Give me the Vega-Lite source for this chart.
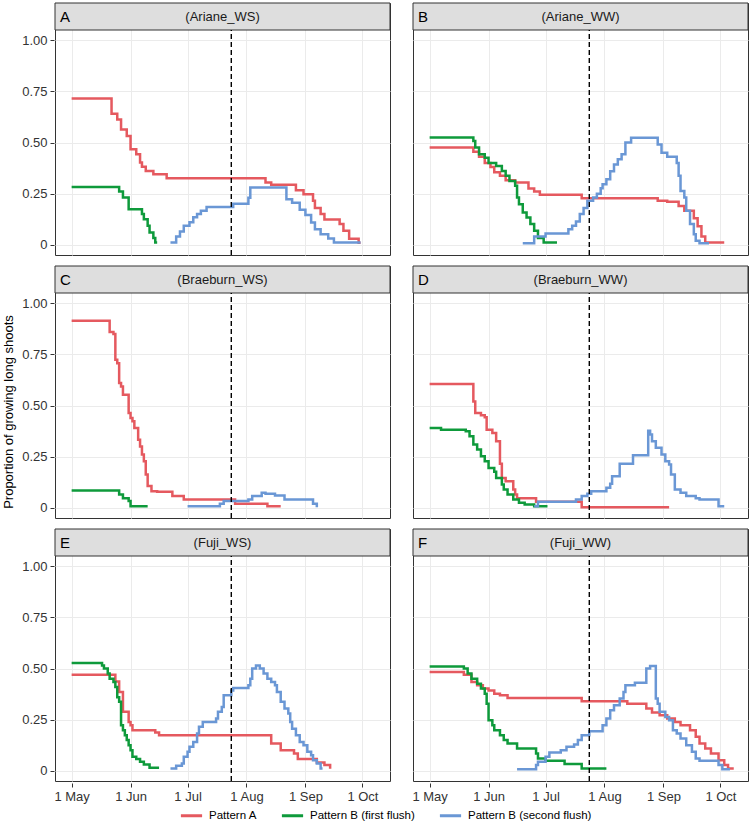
{
  "$schema": "https://vega.github.io/schema/vega-lite/v6.json",
  "background": "white",
  "padding": {"top": 2, "left": 2, "right": 2, "bottom": 4},
  "title": {"text": "Proportion of growing long shoots", "orient": "left", "anchor": "middle", "fontSize": 13, "fontWeight": "normal", "font": "Liberation Sans", "color": "#000000", "offset": 6},
  "config": {
    "font": "Liberation Sans",
    "view": {"stroke": "#333333", "strokeWidth": 1},
    "header": {"labelExpr": "''", "labelFontSize": 0, "title": null, "labelPadding": 0, "titlePadding": 0},
    "axis": {"labelFont": "Liberation Sans", "labelFontSize": 13, "labelColor": "#333333", "tickColor": "#333333", "tickSize": 4, "domain": false, "labelPadding": 3},
    "legend": {"labelFont": "Liberation Sans", "labelFontSize": 11.5, "labelColor": "#000000", "layout": {"bottom": {"anchor": "middle", "bounds": "flush", "direction": "horizontal"}}}
  },
  "data": {"values": [
    {"panel":"A","label":"(Ariane_WS)"},
    {"panel":"B","label":"(Ariane_WW)"},
    {"panel":"C","label":"(Braeburn_WS)"},
    {"panel":"D","label":"(Braeburn_WW)"},
    {"panel":"E","label":"(Fuji_WS)"},
    {"panel":"F","label":"(Fuji_WW)"},

    {"panel":"A","series":"Pattern A","date":"2017-05-01","value":0.715},
    {"panel":"A","series":"Pattern A","date":"2017-05-22","value":0.641},
    {"panel":"A","series":"Pattern A","date":"2017-05-25","value":0.613},
    {"panel":"A","series":"Pattern A","date":"2017-05-27","value":0.564},
    {"panel":"A","series":"Pattern A","date":"2017-05-30","value":0.532},
    {"panel":"A","series":"Pattern A","date":"2017-06-01","value":0.467},
    {"panel":"A","series":"Pattern A","date":"2017-06-04","value":0.442},
    {"panel":"A","series":"Pattern A","date":"2017-06-06","value":0.402},
    {"panel":"A","series":"Pattern A","date":"2017-06-07","value":0.382},
    {"panel":"A","series":"Pattern A","date":"2017-06-09","value":0.361},
    {"panel":"A","series":"Pattern A","date":"2017-06-13","value":0.345},
    {"panel":"A","series":"Pattern A","date":"2017-06-20","value":0.325},
    {"panel":"A","series":"Pattern A","date":"2017-08-11","value":0.304},
    {"panel":"A","series":"Pattern A","date":"2017-08-14","value":0.293},
    {"panel":"A","series":"Pattern A","date":"2017-08-27","value":0.267},
    {"panel":"A","series":"Pattern A","date":"2017-08-31","value":0.247},
    {"panel":"A","series":"Pattern A","date":"2017-09-05","value":0.215},
    {"panel":"A","series":"Pattern A","date":"2017-09-06","value":0.180},
    {"panel":"A","series":"Pattern A","date":"2017-09-09","value":0.150},
    {"panel":"A","series":"Pattern A","date":"2017-09-11","value":0.124},
    {"panel":"A","series":"Pattern A","date":"2017-09-19","value":0.101},
    {"panel":"A","series":"Pattern A","date":"2017-09-21","value":0.069},
    {"panel":"A","series":"Pattern A","date":"2017-09-24","value":0.029},
    {"panel":"A","series":"Pattern A","date":"2017-09-29","value":0.010},
    {"panel":"A","series":"Pattern A","date":"2017-09-30","value":0.010},

    {"panel":"A","series":"Pattern B (first flush)","date":"2017-05-01","value":0.283},
    {"panel":"A","series":"Pattern B (first flush)","date":"2017-05-26","value":0.260},
    {"panel":"A","series":"Pattern B (first flush)","date":"2017-05-28","value":0.231},
    {"panel":"A","series":"Pattern B (first flush)","date":"2017-05-31","value":0.174},
    {"panel":"A","series":"Pattern B (first flush)","date":"2017-06-07","value":0.150},
    {"panel":"A","series":"Pattern B (first flush)","date":"2017-06-08","value":0.125},
    {"panel":"A","series":"Pattern B (first flush)","date":"2017-06-10","value":0.093},
    {"panel":"A","series":"Pattern B (first flush)","date":"2017-06-11","value":0.060},
    {"panel":"A","series":"Pattern B (first flush)","date":"2017-06-13","value":0.033},
    {"panel":"A","series":"Pattern B (first flush)","date":"2017-06-14","value":0.011},
    {"panel":"A","series":"Pattern B (first flush)","date":"2017-06-15","value":0.011},

    {"panel":"A","series":"Pattern B (second flush)","date":"2017-06-22","value":0.011},
    {"panel":"A","series":"Pattern B (second flush)","date":"2017-06-25","value":0.040},
    {"panel":"A","series":"Pattern B (second flush)","date":"2017-06-27","value":0.065},
    {"panel":"A","series":"Pattern B (second flush)","date":"2017-06-29","value":0.093},
    {"panel":"A","series":"Pattern B (second flush)","date":"2017-07-02","value":0.110},
    {"panel":"A","series":"Pattern B (second flush)","date":"2017-07-04","value":0.135},
    {"panel":"A","series":"Pattern B (second flush)","date":"2017-07-06","value":0.150},
    {"panel":"A","series":"Pattern B (second flush)","date":"2017-07-08","value":0.166},
    {"panel":"A","series":"Pattern B (second flush)","date":"2017-07-11","value":0.185},
    {"panel":"A","series":"Pattern B (second flush)","date":"2017-07-25","value":0.200},
    {"panel":"A","series":"Pattern B (second flush)","date":"2017-08-02","value":0.230},
    {"panel":"A","series":"Pattern B (second flush)","date":"2017-08-03","value":0.280},
    {"panel":"A","series":"Pattern B (second flush)","date":"2017-08-22","value":0.223},
    {"panel":"A","series":"Pattern B (second flush)","date":"2017-08-25","value":0.206},
    {"panel":"A","series":"Pattern B (second flush)","date":"2017-08-29","value":0.171},
    {"panel":"A","series":"Pattern B (second flush)","date":"2017-09-01","value":0.146},
    {"panel":"A","series":"Pattern B (second flush)","date":"2017-09-04","value":0.109},
    {"panel":"A","series":"Pattern B (second flush)","date":"2017-09-06","value":0.076},
    {"panel":"A","series":"Pattern B (second flush)","date":"2017-09-09","value":0.051},
    {"panel":"A","series":"Pattern B (second flush)","date":"2017-09-13","value":0.031},
    {"panel":"A","series":"Pattern B (second flush)","date":"2017-09-16","value":0.011},
    {"panel":"A","series":"Pattern B (second flush)","date":"2017-09-30","value":0.011},

    {"panel":"B","series":"Pattern A","date":"2017-05-01","value":0.475},
    {"panel":"B","series":"Pattern A","date":"2017-05-24","value":0.455},
    {"panel":"B","series":"Pattern A","date":"2017-05-27","value":0.430},
    {"panel":"B","series":"Pattern A","date":"2017-05-30","value":0.400},
    {"panel":"B","series":"Pattern A","date":"2017-06-02","value":0.380},
    {"panel":"B","series":"Pattern A","date":"2017-06-04","value":0.355},
    {"panel":"B","series":"Pattern A","date":"2017-06-07","value":0.337},
    {"panel":"B","series":"Pattern A","date":"2017-06-10","value":0.315},
    {"panel":"B","series":"Pattern A","date":"2017-06-15","value":0.304},
    {"panel":"B","series":"Pattern A","date":"2017-06-22","value":0.275},
    {"panel":"B","series":"Pattern A","date":"2017-06-25","value":0.260},
    {"panel":"B","series":"Pattern A","date":"2017-06-28","value":0.245},
    {"panel":"B","series":"Pattern A","date":"2017-07-20","value":0.228},
    {"panel":"B","series":"Pattern A","date":"2017-08-29","value":0.215},
    {"panel":"B","series":"Pattern A","date":"2017-09-03","value":0.210},
    {"panel":"B","series":"Pattern A","date":"2017-09-09","value":0.190},
    {"panel":"B","series":"Pattern A","date":"2017-09-12","value":0.166},
    {"panel":"B","series":"Pattern A","date":"2017-09-17","value":0.130},
    {"panel":"B","series":"Pattern A","date":"2017-09-19","value":0.090},
    {"panel":"B","series":"Pattern A","date":"2017-09-21","value":0.040},
    {"panel":"B","series":"Pattern A","date":"2017-09-23","value":0.011},
    {"panel":"B","series":"Pattern A","date":"2017-10-03","value":0.011},

    {"panel":"B","series":"Pattern B (first flush)","date":"2017-05-01","value":0.524},
    {"panel":"B","series":"Pattern B (first flush)","date":"2017-05-24","value":0.507},
    {"panel":"B","series":"Pattern B (first flush)","date":"2017-05-25","value":0.475},
    {"panel":"B","series":"Pattern B (first flush)","date":"2017-05-27","value":0.442},
    {"panel":"B","series":"Pattern B (first flush)","date":"2017-05-30","value":0.426},
    {"panel":"B","series":"Pattern B (first flush)","date":"2017-06-01","value":0.400},
    {"panel":"B","series":"Pattern B (first flush)","date":"2017-06-05","value":0.385},
    {"panel":"B","series":"Pattern B (first flush)","date":"2017-06-08","value":0.361},
    {"panel":"B","series":"Pattern B (first flush)","date":"2017-06-10","value":0.337},
    {"panel":"B","series":"Pattern B (first flush)","date":"2017-06-12","value":0.312},
    {"panel":"B","series":"Pattern B (first flush)","date":"2017-06-15","value":0.288},
    {"panel":"B","series":"Pattern B (first flush)","date":"2017-06-16","value":0.231},
    {"panel":"B","series":"Pattern B (first flush)","date":"2017-06-17","value":0.198},
    {"panel":"B","series":"Pattern B (first flush)","date":"2017-06-19","value":0.158},
    {"panel":"B","series":"Pattern B (first flush)","date":"2017-06-21","value":0.133},
    {"panel":"B","series":"Pattern B (first flush)","date":"2017-06-23","value":0.101},
    {"panel":"B","series":"Pattern B (first flush)","date":"2017-06-25","value":0.068},
    {"panel":"B","series":"Pattern B (first flush)","date":"2017-06-27","value":0.033},
    {"panel":"B","series":"Pattern B (first flush)","date":"2017-06-30","value":0.011},
    {"panel":"B","series":"Pattern B (first flush)","date":"2017-07-07","value":0.011},

    {"panel":"B","series":"Pattern B (second flush)","date":"2017-06-19","value":0.008},
    {"panel":"B","series":"Pattern B (second flush)","date":"2017-06-25","value":0.040},
    {"panel":"B","series":"Pattern B (second flush)","date":"2017-07-01","value":0.055},
    {"panel":"B","series":"Pattern B (second flush)","date":"2017-07-13","value":0.076},
    {"panel":"B","series":"Pattern B (second flush)","date":"2017-07-15","value":0.093},
    {"panel":"B","series":"Pattern B (second flush)","date":"2017-07-17","value":0.114},
    {"panel":"B","series":"Pattern B (second flush)","date":"2017-07-19","value":0.150},
    {"panel":"B","series":"Pattern B (second flush)","date":"2017-07-21","value":0.180},
    {"panel":"B","series":"Pattern B (second flush)","date":"2017-07-23","value":0.215},
    {"panel":"B","series":"Pattern B (second flush)","date":"2017-07-26","value":0.231},
    {"panel":"B","series":"Pattern B (second flush)","date":"2017-07-28","value":0.250},
    {"panel":"B","series":"Pattern B (second flush)","date":"2017-07-30","value":0.276},
    {"panel":"B","series":"Pattern B (second flush)","date":"2017-07-31","value":0.296},
    {"panel":"B","series":"Pattern B (second flush)","date":"2017-08-02","value":0.320},
    {"panel":"B","series":"Pattern B (second flush)","date":"2017-08-04","value":0.360},
    {"panel":"B","series":"Pattern B (second flush)","date":"2017-08-06","value":0.393},
    {"panel":"B","series":"Pattern B (second flush)","date":"2017-08-08","value":0.418},
    {"panel":"B","series":"Pattern B (second flush)","date":"2017-08-10","value":0.442},
    {"panel":"B","series":"Pattern B (second flush)","date":"2017-08-12","value":0.500},
    {"panel":"B","series":"Pattern B (second flush)","date":"2017-08-15","value":0.523},
    {"panel":"B","series":"Pattern B (second flush)","date":"2017-08-29","value":0.490},
    {"panel":"B","series":"Pattern B (second flush)","date":"2017-08-31","value":0.450},
    {"panel":"B","series":"Pattern B (second flush)","date":"2017-09-03","value":0.430},
    {"panel":"B","series":"Pattern B (second flush)","date":"2017-09-08","value":0.400},
    {"panel":"B","series":"Pattern B (second flush)","date":"2017-09-09","value":0.337},
    {"panel":"B","series":"Pattern B (second flush)","date":"2017-09-10","value":0.263},
    {"panel":"B","series":"Pattern B (second flush)","date":"2017-09-12","value":0.231},
    {"panel":"B","series":"Pattern B (second flush)","date":"2017-09-13","value":0.166},
    {"panel":"B","series":"Pattern B (second flush)","date":"2017-09-15","value":0.101},
    {"panel":"B","series":"Pattern B (second flush)","date":"2017-09-17","value":0.052},
    {"panel":"B","series":"Pattern B (second flush)","date":"2017-09-18","value":0.020},
    {"panel":"B","series":"Pattern B (second flush)","date":"2017-09-20","value":0.008},
    {"panel":"B","series":"Pattern B (second flush)","date":"2017-09-25","value":0.008},

    {"panel":"C","series":"Pattern A","date":"2017-05-01","value":0.914},
    {"panel":"C","series":"Pattern A","date":"2017-05-21","value":0.859},
    {"panel":"C","series":"Pattern A","date":"2017-05-23","value":0.849},
    {"panel":"C","series":"Pattern A","date":"2017-05-24","value":0.724},
    {"panel":"C","series":"Pattern A","date":"2017-05-25","value":0.707},
    {"panel":"C","series":"Pattern A","date":"2017-05-26","value":0.610},
    {"panel":"C","series":"Pattern A","date":"2017-05-27","value":0.593},
    {"panel":"C","series":"Pattern A","date":"2017-05-28","value":0.553},
    {"panel":"C","series":"Pattern A","date":"2017-05-31","value":0.463},
    {"panel":"C","series":"Pattern A","date":"2017-06-01","value":0.439},
    {"panel":"C","series":"Pattern A","date":"2017-06-02","value":0.423},
    {"panel":"C","series":"Pattern A","date":"2017-06-03","value":0.390},
    {"panel":"C","series":"Pattern A","date":"2017-06-05","value":0.333},
    {"panel":"C","series":"Pattern A","date":"2017-06-06","value":0.300},
    {"panel":"C","series":"Pattern A","date":"2017-06-07","value":0.260},
    {"panel":"C","series":"Pattern A","date":"2017-06-08","value":0.228},
    {"panel":"C","series":"Pattern A","date":"2017-06-09","value":0.163},
    {"panel":"C","series":"Pattern A","date":"2017-06-10","value":0.106},
    {"panel":"C","series":"Pattern A","date":"2017-06-12","value":0.081},
    {"panel":"C","series":"Pattern A","date":"2017-06-15","value":0.078},
    {"panel":"C","series":"Pattern A","date":"2017-06-23","value":0.057},
    {"panel":"C","series":"Pattern A","date":"2017-06-29","value":0.041},
    {"panel":"C","series":"Pattern A","date":"2017-07-26","value":0.020},
    {"panel":"C","series":"Pattern A","date":"2017-08-12","value":0.008},
    {"panel":"C","series":"Pattern A","date":"2017-08-19","value":0.008},

    {"panel":"C","series":"Pattern B (first flush)","date":"2017-05-01","value":0.085},
    {"panel":"C","series":"Pattern B (first flush)","date":"2017-05-26","value":0.065},
    {"panel":"C","series":"Pattern B (first flush)","date":"2017-05-28","value":0.046},
    {"panel":"C","series":"Pattern B (first flush)","date":"2017-05-31","value":0.033},
    {"panel":"C","series":"Pattern B (first flush)","date":"2017-06-01","value":0.008},
    {"panel":"C","series":"Pattern B (first flush)","date":"2017-06-10","value":0.008},

    {"panel":"C","series":"Pattern B (second flush)","date":"2017-07-01","value":0.008},
    {"panel":"C","series":"Pattern B (second flush)","date":"2017-07-18","value":0.020},
    {"panel":"C","series":"Pattern B (second flush)","date":"2017-07-20","value":0.033},
    {"panel":"C","series":"Pattern B (second flush)","date":"2017-08-02","value":0.041},
    {"panel":"C","series":"Pattern B (second flush)","date":"2017-08-04","value":0.057},
    {"panel":"C","series":"Pattern B (second flush)","date":"2017-08-09","value":0.073},
    {"panel":"C","series":"Pattern B (second flush)","date":"2017-08-11","value":0.068},
    {"panel":"C","series":"Pattern B (second flush)","date":"2017-08-16","value":0.060},
    {"panel":"C","series":"Pattern B (second flush)","date":"2017-08-21","value":0.041},
    {"panel":"C","series":"Pattern B (second flush)","date":"2017-09-05","value":0.020},
    {"panel":"C","series":"Pattern B (second flush)","date":"2017-09-07","value":0.003},

    {"panel":"D","series":"Pattern A","date":"2017-05-01","value":0.605},
    {"panel":"D","series":"Pattern A","date":"2017-05-24","value":0.520},
    {"panel":"D","series":"Pattern A","date":"2017-05-25","value":0.463},
    {"panel":"D","series":"Pattern A","date":"2017-05-28","value":0.452},
    {"panel":"D","series":"Pattern A","date":"2017-05-30","value":0.442},
    {"panel":"D","series":"Pattern A","date":"2017-05-31","value":0.382},
    {"panel":"D","series":"Pattern A","date":"2017-06-03","value":0.366},
    {"panel":"D","series":"Pattern A","date":"2017-06-05","value":0.325},
    {"panel":"D","series":"Pattern A","date":"2017-06-07","value":0.215},
    {"panel":"D","series":"Pattern A","date":"2017-06-08","value":0.146},
    {"panel":"D","series":"Pattern A","date":"2017-06-10","value":0.130},
    {"panel":"D","series":"Pattern A","date":"2017-06-14","value":0.089},
    {"panel":"D","series":"Pattern A","date":"2017-06-15","value":0.065},
    {"panel":"D","series":"Pattern A","date":"2017-06-16","value":0.046},
    {"panel":"D","series":"Pattern A","date":"2017-06-26","value":0.029},
    {"panel":"D","series":"Pattern A","date":"2017-07-20","value":0.003},
    {"panel":"D","series":"Pattern A","date":"2017-09-04","value":0.003},

    {"panel":"D","series":"Pattern B (first flush)","date":"2017-05-01","value":0.390},
    {"panel":"D","series":"Pattern B (first flush)","date":"2017-05-07","value":0.382},
    {"panel":"D","series":"Pattern B (first flush)","date":"2017-05-20","value":0.374},
    {"panel":"D","series":"Pattern B (first flush)","date":"2017-05-22","value":0.350},
    {"panel":"D","series":"Pattern B (first flush)","date":"2017-05-24","value":0.309},
    {"panel":"D","series":"Pattern B (first flush)","date":"2017-05-26","value":0.285},
    {"panel":"D","series":"Pattern B (first flush)","date":"2017-05-28","value":0.252},
    {"panel":"D","series":"Pattern B (first flush)","date":"2017-05-30","value":0.228},
    {"panel":"D","series":"Pattern B (first flush)","date":"2017-06-01","value":0.195},
    {"panel":"D","series":"Pattern B (first flush)","date":"2017-06-04","value":0.176},
    {"panel":"D","series":"Pattern B (first flush)","date":"2017-06-05","value":0.146},
    {"panel":"D","series":"Pattern B (first flush)","date":"2017-06-08","value":0.114},
    {"panel":"D","series":"Pattern B (first flush)","date":"2017-06-09","value":0.089},
    {"panel":"D","series":"Pattern B (first flush)","date":"2017-06-11","value":0.065},
    {"panel":"D","series":"Pattern B (first flush)","date":"2017-06-14","value":0.041},
    {"panel":"D","series":"Pattern B (first flush)","date":"2017-06-17","value":0.024},
    {"panel":"D","series":"Pattern B (first flush)","date":"2017-06-20","value":0.016},
    {"panel":"D","series":"Pattern B (first flush)","date":"2017-06-25","value":0.008},
    {"panel":"D","series":"Pattern B (first flush)","date":"2017-07-02","value":0.008},

    {"panel":"D","series":"Pattern B (second flush)","date":"2017-06-25","value":0.008},
    {"panel":"D","series":"Pattern B (second flush)","date":"2017-06-27","value":0.029},
    {"panel":"D","series":"Pattern B (second flush)","date":"2017-07-17","value":0.041},
    {"panel":"D","series":"Pattern B (second flush)","date":"2017-07-20","value":0.057},
    {"panel":"D","series":"Pattern B (second flush)","date":"2017-07-23","value":0.068},
    {"panel":"D","series":"Pattern B (second flush)","date":"2017-07-25","value":0.081},
    {"panel":"D","series":"Pattern B (second flush)","date":"2017-08-02","value":0.098},
    {"panel":"D","series":"Pattern B (second flush)","date":"2017-08-04","value":0.117},
    {"panel":"D","series":"Pattern B (second flush)","date":"2017-08-05","value":0.154},
    {"panel":"D","series":"Pattern B (second flush)","date":"2017-08-09","value":0.215},
    {"panel":"D","series":"Pattern B (second flush)","date":"2017-08-16","value":0.257},
    {"panel":"D","series":"Pattern B (second flush)","date":"2017-08-24","value":0.377},
    {"panel":"D","series":"Pattern B (second flush)","date":"2017-08-25","value":0.358},
    {"panel":"D","series":"Pattern B (second flush)","date":"2017-08-26","value":0.325},
    {"panel":"D","series":"Pattern B (second flush)","date":"2017-08-28","value":0.293},
    {"panel":"D","series":"Pattern B (second flush)","date":"2017-08-31","value":0.260},
    {"panel":"D","series":"Pattern B (second flush)","date":"2017-09-02","value":0.228},
    {"panel":"D","series":"Pattern B (second flush)","date":"2017-09-04","value":0.211},
    {"panel":"D","series":"Pattern B (second flush)","date":"2017-09-05","value":0.163},
    {"panel":"D","series":"Pattern B (second flush)","date":"2017-09-07","value":0.089},
    {"panel":"D","series":"Pattern B (second flush)","date":"2017-09-10","value":0.073},
    {"panel":"D","series":"Pattern B (second flush)","date":"2017-09-13","value":0.057},
    {"panel":"D","series":"Pattern B (second flush)","date":"2017-09-18","value":0.046},
    {"panel":"D","series":"Pattern B (second flush)","date":"2017-09-20","value":0.041},
    {"panel":"D","series":"Pattern B (second flush)","date":"2017-09-30","value":0.008},
    {"panel":"D","series":"Pattern B (second flush)","date":"2017-10-03","value":0.008},

    {"panel":"E","series":"Pattern A","date":"2017-05-01","value":0.470},
    {"panel":"E","series":"Pattern A","date":"2017-05-24","value":0.437},
    {"panel":"E","series":"Pattern A","date":"2017-05-26","value":0.385},
    {"panel":"E","series":"Pattern A","date":"2017-05-28","value":0.288},
    {"panel":"E","series":"Pattern A","date":"2017-05-31","value":0.239},
    {"panel":"E","series":"Pattern A","date":"2017-06-01","value":0.223},
    {"panel":"E","series":"Pattern A","date":"2017-06-02","value":0.198},
    {"panel":"E","series":"Pattern A","date":"2017-06-14","value":0.187},
    {"panel":"E","series":"Pattern A","date":"2017-06-16","value":0.174},
    {"panel":"E","series":"Pattern A","date":"2017-08-14","value":0.133},
    {"panel":"E","series":"Pattern A","date":"2017-08-19","value":0.100},
    {"panel":"E","series":"Pattern A","date":"2017-08-26","value":0.085},
    {"panel":"E","series":"Pattern A","date":"2017-08-28","value":0.057},
    {"panel":"E","series":"Pattern A","date":"2017-09-07","value":0.040},
    {"panel":"E","series":"Pattern A","date":"2017-09-11","value":0.028},
    {"panel":"E","series":"Pattern A","date":"2017-09-14","value":0.010},

    {"panel":"E","series":"Pattern B (first flush)","date":"2017-05-01","value":0.527},
    {"panel":"E","series":"Pattern B (first flush)","date":"2017-05-17","value":0.515},
    {"panel":"E","series":"Pattern B (first flush)","date":"2017-05-18","value":0.500},
    {"panel":"E","series":"Pattern B (first flush)","date":"2017-05-20","value":0.475},
    {"panel":"E","series":"Pattern B (first flush)","date":"2017-05-21","value":0.450},
    {"panel":"E","series":"Pattern B (first flush)","date":"2017-05-23","value":0.434},
    {"panel":"E","series":"Pattern B (first flush)","date":"2017-05-24","value":0.410},
    {"panel":"E","series":"Pattern B (first flush)","date":"2017-05-25","value":0.360},
    {"panel":"E","series":"Pattern B (first flush)","date":"2017-05-26","value":0.337},
    {"panel":"E","series":"Pattern B (first flush)","date":"2017-05-27","value":0.223},
    {"panel":"E","series":"Pattern B (first flush)","date":"2017-05-28","value":0.198},
    {"panel":"E","series":"Pattern B (first flush)","date":"2017-05-29","value":0.174},
    {"panel":"E","series":"Pattern B (first flush)","date":"2017-05-30","value":0.150},
    {"panel":"E","series":"Pattern B (first flush)","date":"2017-05-31","value":0.125},
    {"panel":"E","series":"Pattern B (first flush)","date":"2017-06-01","value":0.100},
    {"panel":"E","series":"Pattern B (first flush)","date":"2017-06-02","value":0.068},
    {"panel":"E","series":"Pattern B (first flush)","date":"2017-06-04","value":0.057},
    {"panel":"E","series":"Pattern B (first flush)","date":"2017-06-06","value":0.044},
    {"panel":"E","series":"Pattern B (first flush)","date":"2017-06-08","value":0.031},
    {"panel":"E","series":"Pattern B (first flush)","date":"2017-06-11","value":0.015},
    {"panel":"E","series":"Pattern B (first flush)","date":"2017-06-16","value":0.015},

    {"panel":"E","series":"Pattern B (second flush)","date":"2017-06-22","value":0.011},
    {"panel":"E","series":"Pattern B (second flush)","date":"2017-06-25","value":0.024},
    {"panel":"E","series":"Pattern B (second flush)","date":"2017-06-28","value":0.036},
    {"panel":"E","series":"Pattern B (second flush)","date":"2017-06-29","value":0.068},
    {"panel":"E","series":"Pattern B (second flush)","date":"2017-07-01","value":0.093},
    {"panel":"E","series":"Pattern B (second flush)","date":"2017-07-02","value":0.117},
    {"panel":"E","series":"Pattern B (second flush)","date":"2017-07-04","value":0.141},
    {"panel":"E","series":"Pattern B (second flush)","date":"2017-07-06","value":0.182},
    {"panel":"E","series":"Pattern B (second flush)","date":"2017-07-07","value":0.215},
    {"panel":"E","series":"Pattern B (second flush)","date":"2017-07-09","value":0.239},
    {"panel":"E","series":"Pattern B (second flush)","date":"2017-07-16","value":0.255},
    {"panel":"E","series":"Pattern B (second flush)","date":"2017-07-17","value":0.288},
    {"panel":"E","series":"Pattern B (second flush)","date":"2017-07-19","value":0.312},
    {"panel":"E","series":"Pattern B (second flush)","date":"2017-07-20","value":0.369},
    {"panel":"E","series":"Pattern B (second flush)","date":"2017-07-24","value":0.393},
    {"panel":"E","series":"Pattern B (second flush)","date":"2017-07-25","value":0.405},
    {"panel":"E","series":"Pattern B (second flush)","date":"2017-08-02","value":0.418},
    {"panel":"E","series":"Pattern B (second flush)","date":"2017-08-03","value":0.450},
    {"panel":"E","series":"Pattern B (second flush)","date":"2017-08-04","value":0.500},
    {"panel":"E","series":"Pattern B (second flush)","date":"2017-08-06","value":0.515},
    {"panel":"E","series":"Pattern B (second flush)","date":"2017-08-08","value":0.500},
    {"panel":"E","series":"Pattern B (second flush)","date":"2017-08-10","value":0.475},
    {"panel":"E","series":"Pattern B (second flush)","date":"2017-08-12","value":0.450},
    {"panel":"E","series":"Pattern B (second flush)","date":"2017-08-14","value":0.434},
    {"panel":"E","series":"Pattern B (second flush)","date":"2017-08-16","value":0.418},
    {"panel":"E","series":"Pattern B (second flush)","date":"2017-08-17","value":0.385},
    {"panel":"E","series":"Pattern B (second flush)","date":"2017-08-19","value":0.337},
    {"panel":"E","series":"Pattern B (second flush)","date":"2017-08-21","value":0.304},
    {"panel":"E","series":"Pattern B (second flush)","date":"2017-08-23","value":0.280},
    {"panel":"E","series":"Pattern B (second flush)","date":"2017-08-24","value":0.239},
    {"panel":"E","series":"Pattern B (second flush)","date":"2017-08-25","value":0.206},
    {"panel":"E","series":"Pattern B (second flush)","date":"2017-08-27","value":0.174},
    {"panel":"E","series":"Pattern B (second flush)","date":"2017-08-29","value":0.141},
    {"panel":"E","series":"Pattern B (second flush)","date":"2017-08-31","value":0.125},
    {"panel":"E","series":"Pattern B (second flush)","date":"2017-09-02","value":0.093},
    {"panel":"E","series":"Pattern B (second flush)","date":"2017-09-04","value":0.076},
    {"panel":"E","series":"Pattern B (second flush)","date":"2017-09-05","value":0.052},
    {"panel":"E","series":"Pattern B (second flush)","date":"2017-09-07","value":0.036},
    {"panel":"E","series":"Pattern B (second flush)","date":"2017-09-09","value":0.011},
    {"panel":"E","series":"Pattern B (second flush)","date":"2017-09-10","value":0.011},

    {"panel":"F","series":"Pattern A","date":"2017-05-01","value":0.483},
    {"panel":"F","series":"Pattern A","date":"2017-05-19","value":0.470},
    {"panel":"F","series":"Pattern A","date":"2017-05-23","value":0.434},
    {"panel":"F","series":"Pattern A","date":"2017-05-26","value":0.418},
    {"panel":"F","series":"Pattern A","date":"2017-05-29","value":0.402},
    {"panel":"F","series":"Pattern A","date":"2017-06-01","value":0.393},
    {"panel":"F","series":"Pattern A","date":"2017-06-04","value":0.377},
    {"panel":"F","series":"Pattern A","date":"2017-06-07","value":0.369},
    {"panel":"F","series":"Pattern A","date":"2017-06-11","value":0.356},
    {"panel":"F","series":"Pattern A","date":"2017-07-20","value":0.340},
    {"panel":"F","series":"Pattern A","date":"2017-08-13","value":0.328},
    {"panel":"F","series":"Pattern A","date":"2017-08-23","value":0.304},
    {"panel":"F","series":"Pattern A","date":"2017-08-26","value":0.285},
    {"panel":"F","series":"Pattern A","date":"2017-08-30","value":0.272},
    {"panel":"F","series":"Pattern A","date":"2017-09-03","value":0.255},
    {"panel":"F","series":"Pattern A","date":"2017-09-07","value":0.239},
    {"panel":"F","series":"Pattern A","date":"2017-09-10","value":0.223},
    {"panel":"F","series":"Pattern A","date":"2017-09-15","value":0.198},
    {"panel":"F","series":"Pattern A","date":"2017-09-18","value":0.166},
    {"panel":"F","series":"Pattern A","date":"2017-09-20","value":0.133},
    {"panel":"F","series":"Pattern A","date":"2017-09-23","value":0.109},
    {"panel":"F","series":"Pattern A","date":"2017-09-26","value":0.085},
    {"panel":"F","series":"Pattern A","date":"2017-09-30","value":0.052},
    {"panel":"F","series":"Pattern A","date":"2017-10-03","value":0.028},
    {"panel":"F","series":"Pattern A","date":"2017-10-05","value":0.011},
    {"panel":"F","series":"Pattern A","date":"2017-10-08","value":0.011},

    {"panel":"F","series":"Pattern B (first flush)","date":"2017-05-01","value":0.510},
    {"panel":"F","series":"Pattern B (first flush)","date":"2017-05-19","value":0.500},
    {"panel":"F","series":"Pattern B (first flush)","date":"2017-05-21","value":0.475},
    {"panel":"F","series":"Pattern B (first flush)","date":"2017-05-23","value":0.450},
    {"panel":"F","series":"Pattern B (first flush)","date":"2017-05-26","value":0.426},
    {"panel":"F","series":"Pattern B (first flush)","date":"2017-05-28","value":0.402},
    {"panel":"F","series":"Pattern B (first flush)","date":"2017-05-30","value":0.377},
    {"panel":"F","series":"Pattern B (first flush)","date":"2017-05-31","value":0.328},
    {"panel":"F","series":"Pattern B (first flush)","date":"2017-06-01","value":0.247},
    {"panel":"F","series":"Pattern B (first flush)","date":"2017-06-03","value":0.223},
    {"panel":"F","series":"Pattern B (first flush)","date":"2017-06-04","value":0.198},
    {"panel":"F","series":"Pattern B (first flush)","date":"2017-06-07","value":0.174},
    {"panel":"F","series":"Pattern B (first flush)","date":"2017-06-09","value":0.150},
    {"panel":"F","series":"Pattern B (first flush)","date":"2017-06-11","value":0.133},
    {"panel":"F","series":"Pattern B (first flush)","date":"2017-06-16","value":0.109},
    {"panel":"F","series":"Pattern B (first flush)","date":"2017-06-26","value":0.085},
    {"panel":"F","series":"Pattern B (first flush)","date":"2017-06-27","value":0.060},
    {"panel":"F","series":"Pattern B (first flush)","date":"2017-07-01","value":0.049},
    {"panel":"F","series":"Pattern B (first flush)","date":"2017-07-11","value":0.033},
    {"panel":"F","series":"Pattern B (first flush)","date":"2017-07-20","value":0.011},
    {"panel":"F","series":"Pattern B (first flush)","date":"2017-08-02","value":0.011},

    {"panel":"F","series":"Pattern B (second flush)","date":"2017-06-16","value":0.008},
    {"panel":"F","series":"Pattern B (second flush)","date":"2017-06-26","value":0.028},
    {"panel":"F","series":"Pattern B (second flush)","date":"2017-06-27","value":0.044},
    {"panel":"F","series":"Pattern B (second flush)","date":"2017-07-01","value":0.068},
    {"panel":"F","series":"Pattern B (second flush)","date":"2017-07-03","value":0.089},
    {"panel":"F","series":"Pattern B (second flush)","date":"2017-07-09","value":0.100},
    {"panel":"F","series":"Pattern B (second flush)","date":"2017-07-12","value":0.117},
    {"panel":"F","series":"Pattern B (second flush)","date":"2017-07-16","value":0.128},
    {"panel":"F","series":"Pattern B (second flush)","date":"2017-07-18","value":0.150},
    {"panel":"F","series":"Pattern B (second flush)","date":"2017-07-20","value":0.174},
    {"panel":"F","series":"Pattern B (second flush)","date":"2017-07-24","value":0.193},
    {"panel":"F","series":"Pattern B (second flush)","date":"2017-07-31","value":0.223},
    {"panel":"F","series":"Pattern B (second flush)","date":"2017-08-02","value":0.255},
    {"panel":"F","series":"Pattern B (second flush)","date":"2017-08-04","value":0.296},
    {"panel":"F","series":"Pattern B (second flush)","date":"2017-08-06","value":0.320},
    {"panel":"F","series":"Pattern B (second flush)","date":"2017-08-09","value":0.353},
    {"panel":"F","series":"Pattern B (second flush)","date":"2017-08-11","value":0.385},
    {"panel":"F","series":"Pattern B (second flush)","date":"2017-08-12","value":0.418},
    {"panel":"F","series":"Pattern B (second flush)","date":"2017-08-17","value":0.430},
    {"panel":"F","series":"Pattern B (second flush)","date":"2017-08-23","value":0.500},
    {"panel":"F","series":"Pattern B (second flush)","date":"2017-08-25","value":0.512},
    {"panel":"F","series":"Pattern B (second flush)","date":"2017-08-28","value":0.353},
    {"panel":"F","series":"Pattern B (second flush)","date":"2017-08-29","value":0.328},
    {"panel":"F","series":"Pattern B (second flush)","date":"2017-08-30","value":0.288},
    {"panel":"F","series":"Pattern B (second flush)","date":"2017-09-02","value":0.263},
    {"panel":"F","series":"Pattern B (second flush)","date":"2017-09-04","value":0.247},
    {"panel":"F","series":"Pattern B (second flush)","date":"2017-09-06","value":0.198},
    {"panel":"F","series":"Pattern B (second flush)","date":"2017-09-08","value":0.182},
    {"panel":"F","series":"Pattern B (second flush)","date":"2017-09-10","value":0.158},
    {"panel":"F","series":"Pattern B (second flush)","date":"2017-09-13","value":0.125},
    {"panel":"F","series":"Pattern B (second flush)","date":"2017-09-16","value":0.093},
    {"panel":"F","series":"Pattern B (second flush)","date":"2017-09-18","value":0.060},
    {"panel":"F","series":"Pattern B (second flush)","date":"2017-09-20","value":0.049},
    {"panel":"F","series":"Pattern B (second flush)","date":"2017-09-30","value":0.028},
    {"panel":"F","series":"Pattern B (second flush)","date":"2017-10-02","value":0.008},
    {"panel":"F","series":"Pattern B (second flush)","date":"2017-10-06","value":0.008}
  ]},
  "facet": {"field": "panel", "type": "nominal", "header": {"labelExpr": "''", "labelFontSize": 0, "title": null, "labelPadding": 0}},
  "columns": 2,
  "spacing": {"row": 8, "column": 21},
  "spec": {
    "width": 335,
    "height": 252,
    "layer": [
      {
        "transform": [{"filter": "isValid(datum.series)"}],
        "mark": {"type": "line", "interpolate": "step-after", "strokeWidth": 2.5},
        "encoding": {
          "x": {
            "field": "date", "type": "temporal",
            "scale": {"type": "utc", "domain": [{"year": 2017, "month": 4, "date": 22, "hours": 6, "utc": true}, {"year": 2017, "month": 10, "date": 15, "hours": 12, "utc": true}]},
            "axis": {
              "title": null,
              "values": [
                {"year": 2017, "month": 5, "date": 1, "utc": true},
                {"year": 2017, "month": 5, "date": 16, "hours": 12, "utc": true},
                {"year": 2017, "month": 6, "date": 1, "utc": true},
                {"year": 2017, "month": 6, "date": 16, "utc": true},
                {"year": 2017, "month": 7, "date": 1, "utc": true},
                {"year": 2017, "month": 7, "date": 16, "hours": 12, "utc": true},
                {"year": 2017, "month": 8, "date": 1, "utc": true},
                {"year": 2017, "month": 8, "date": 16, "hours": 12, "utc": true},
                {"year": 2017, "month": 9, "date": 1, "utc": true},
                {"year": 2017, "month": 9, "date": 16, "utc": true},
                {"year": 2017, "month": 10, "date": 1, "utc": true}
              ],
              "labelExpr": "utcdate(datum.value) === 1 ? utcFormat(datum.value, '%-d %b') : ''",
              "labelOverlap": false,
              "labelFlush": false,
              "tickOpacity": {"condition": {"test": "utcdate(datum.value) === 1", "value": 1}, "value": 0},
              "gridColor": "#EBEBEB",
              "gridWidth": {"condition": {"test": "utcdate(datum.value) === 1", "value": 1}, "value": 0.5}
            }
          },
          "y": {
            "field": "value", "type": "quantitative",
            "scale": {"domain": [-0.05, 1.182], "nice": false, "zero": false},
            "axis": {
              "title": null,
              "values": [0, 0.125, 0.25, 0.375, 0.5, 0.625, 0.75, 0.875, 1],
              "labelExpr": "datum.value === 0 ? '0' : ((datum.value * 4) % 1 === 0 ? format(datum.value, '.2f') : '')",
              "labelOverlap": false,
              "labelFlush": false,
              "tickOpacity": {"condition": {"test": "(datum.value * 4) % 1 === 0", "value": 1}, "value": 0},
              "gridColor": "#EBEBEB",
              "gridWidth": {"condition": {"test": "(datum.value * 4) % 1 === 0", "value": 1}, "value": 0.5}
            }
          },
          "color": {
            "field": "series", "type": "nominal",
            "scale": {"domain": ["Pattern A", "Pattern B (first flush)", "Pattern B (second flush)"], "range": ["#E5595F", "#0E9A3B", "#6A97D5"]},
            "legend": {"title": null, "orient": "bottom", "direction": "horizontal", "symbolType": "stroke", "symbolStrokeWidth": 3, "symbolSize": 450, "columnPadding": 18, "labelOffset": 5, "offset": 0}
          }
        }
      },
      {
        "transform": [{"filter": "isValid(datum.label)"}],
        "mark": {"type": "rect", "fill": "#DEDEDE", "stroke": "#333333", "strokeWidth": 1},
        "encoding": {
          "y": {"datum": 1.05, "type": "quantitative"},
          "y2": {"datum": 1.182}
        }
      },
      {
        "transform": [{"filter": "isValid(datum.label)"}],
        "mark": {"type": "rule", "strokeDash": [5, 3], "strokeWidth": 1.4, "color": "#000000"},
        "encoding": {
          "x": {"datum": {"year": 2017, "month": 7, "date": 24, "utc": true}, "type": "temporal"},
          "y": {"datum": -0.05, "type": "quantitative"},
          "y2": {"datum": 1.05}
        }
      },
      {
        "transform": [{"filter": "isValid(datum.label)"}],
        "mark": {"type": "text", "fontSize": 13, "baseline": "middle", "align": "center", "color": "#1A1A1A"},
        "encoding": {
          "y": {"datum": 1.116, "type": "quantitative"},
          "text": {"field": "label"}
        }
      },
      {
        "transform": [{"filter": "isValid(datum.label)"}],
        "mark": {"type": "text", "fontSize": 15, "baseline": "middle", "align": "left", "dx": 5, "color": "#000000"},
        "encoding": {
          "x": {"datum": {"year": 2017, "month": 4, "date": 22, "hours": 6, "utc": true}, "type": "temporal"},
          "y": {"datum": 1.116, "type": "quantitative"},
          "text": {"field": "panel"}
        }
      }
    ]
  }
}
